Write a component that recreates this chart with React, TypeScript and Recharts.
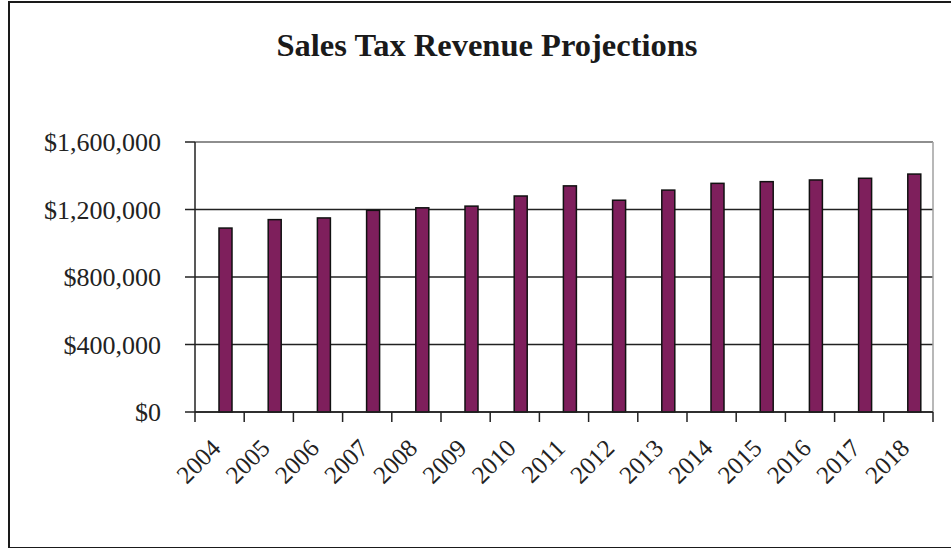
import React from "react";
import {
  BarChart,
  Bar,
  XAxis,
  YAxis,
  CartesianGrid,
  ReferenceLine,
} from "recharts";

const years = [
  "2004", "2005", "2006", "2007", "2008", "2009", "2010", "2011",
  "2012", "2013", "2014", "2015", "2016", "2017", "2018",
];
const revenue = [
  1090000, 1140000, 1150000, 1195000, 1210000, 1220000, 1280000, 1340000,
  1255000, 1315000, 1355000, 1365000, 1375000, 1385000, 1410000,
];
const yTicks = [0, 400000, 800000, 1200000, 1600000];
// category boundaries, where the x tick marks sit
const edgeTicks = [0, 1, 2, 3, 4, 5, 6, 7, 8, 9, 10, 11, 12, 13, 14, 15];

const data = years.map((year, i) => ({ year, revenue: revenue[i], idx: i }));

const FONT = "'Liberation Serif', 'DejaVu Serif', serif";
const INK = "#222";

// Excel draws the bars a little right of the category middle
const OffsetBar = (props: any) => {
  const { x, y, width, height } = props;
  if (height == null || height <= 0) return null;
  return (
    <rect
      x={x + 6}
      y={y}
      width={width}
      height={height}
      fill="#7E1F5C"
      stroke="#111"
      strokeWidth={1.5}
    />
  );
};

export default function App() {
  return (
    <div
      style={{
        position: "fixed",
        left: 0,
        top: 0,
        width: 951,
        height: 548,
        background: "#fff",
        overflow: "hidden",
      }}
    >
      <div
        style={{
          position: "absolute",
          left: 8,
          top: 1,
          width: 960,
          height: 544,
          borderLeft: "2px solid #1a1a1a",
          borderTop: "2px solid #1a1a1a",
          borderBottom: "2px solid #1a1a1a",
        }}
      />
      <div
        style={{
          position: "absolute",
          left: 237,
          top: 25,
          width: 500,
          textAlign: "center",
          fontFamily: FONT,
          fontWeight: "bold",
          fontSize: 32.5,
          lineHeight: "40px",
          color: "#1a1a1a",
          whiteSpace: "nowrap",
        }}
      >
        Sales Tax Revenue Projections
      </div>
      <div style={{ position: "absolute", left: 0, top: 0 }}>
        <BarChart
          width={951}
          height={548}
          data={data}
          margin={{ top: 142, right: 18, bottom: 0, left: 75 }}
          barSize={13}
        >
          <CartesianGrid vertical={false} stroke={INK} strokeWidth={1.5} />
          <XAxis
            xAxisId="edges"
            dataKey="idx"
            type="number"
            domain={[0, 15]}
            ticks={edgeTicks}
            allowDataOverflow
            height={1}
            tickSize={10}
            tickLine={{ stroke: INK, strokeWidth: 1.5 }}
            axisLine={{ stroke: INK, strokeWidth: 1.5 }}
            tickFormatter={() => ""}
          />
          <XAxis
            xAxisId="labels"
            dataKey="year"
            height={135}
            axisLine={false}
            tickLine={false}
            interval={0}
            angle={-45}
            textAnchor="end"
            tickMargin={22}
            tick={{ fill: INK, fontFamily: FONT, fontSize: 25, dx: -10, dy: -4 }}
          />
          <YAxis
            domain={[0, 1600000]}
            ticks={yTicks}
            width={120}
            tickSize={10}
            tickMargin={24}
            axisLine={{ stroke: INK, strokeWidth: 1.5 }}
            tickLine={{ stroke: INK, strokeWidth: 1.5 }}
            tick={{ fill: INK, fontFamily: FONT, fontSize: 26 }}
            tickFormatter={(v: number) => "$" + v.toLocaleString("en-US")}
          />
          <ReferenceLine y={1600000} stroke="#a0a0a0" strokeWidth={1.5} />
          <ReferenceLine xAxisId="edges" x={15} stroke="#a0a0a0" strokeWidth={1.5} />
          <Bar
            xAxisId="labels"
            dataKey="revenue"
            shape={OffsetBar}
            isAnimationActive={false}
          />
        </BarChart>
      </div>
    </div>
  );
}
